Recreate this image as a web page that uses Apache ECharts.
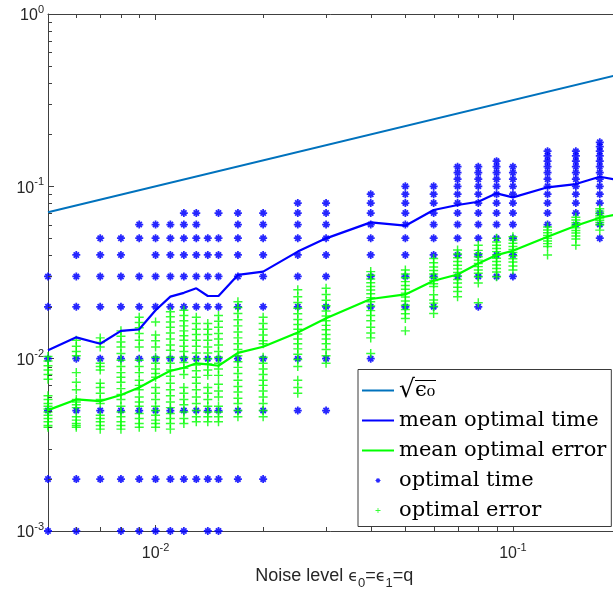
<!DOCTYPE html>
<html><head><meta charset="utf-8">
<script src="https://cdn.jsdelivr.net/npm/echarts@6/dist/echarts.min.js"></script>
<style>html,body{margin:0;padding:0;background:#fff}#c{width:613px;height:592px}</style>
</head><body><div id="c"></div>
<script>
// ---------------- data ----------------
const noise = [0.005, 0.006, 0.007, 0.008, 0.009, 0.01, 0.011, 0.012, 0.013, 0.014, 0.015, 0.017, 0.02, 0.025, 0.03, 0.04, 0.05, 0.06, 0.07, 0.08, 0.09, 0.1, 0.125, 0.15, 0.175, 0.2];
const sqrtX = [0.005, 0.2];
const sqrtY = [0.0707, 0.447];
const meanTime = [0.0112, 0.0133, 0.0122, 0.0145, 0.0148, 0.0191, 0.0229, 0.0241, 0.0256, 0.0231, 0.0231, 0.0306, 0.0320, 0.0418, 0.0499, 0.0618, 0.0591, 0.0729, 0.0779, 0.0814, 0.0911, 0.0863, 0.0987, 0.1031, 0.1137, 0.108];
const meanError = [0.00503, 0.0058, 0.00567, 0.00615, 0.0068, 0.00768, 0.0085, 0.00886, 0.0094, 0.00927, 0.0091, 0.0108, 0.01173, 0.0142, 0.01714, 0.0222, 0.0236, 0.0283, 0.0308, 0.0357, 0.0399, 0.0423, 0.051, 0.0591, 0.0657, 0.0696];
const timeCols = [
  [0.03, 0.02, 0.01, 0.005, 0.002, 0.001],
  [0.04, 0.03, 0.02, 0.01, 0.005, 0.002, 0.001],
  [0.05, 0.04, 0.03, 0.02, 0.01, 0.005, 0.002],
  [0.05, 0.04, 0.03, 0.02, 0.01, 0.005, 0.002, 0.001],
  [0.06, 0.05, 0.03, 0.02, 0.01, 0.005, 0.002, 0.001],
  [0.06, 0.05, 0.04, 0.03, 0.02, 0.01, 0.005, 0.002, 0.001],
  [0.06, 0.05, 0.04, 0.03, 0.02, 0.01, 0.005, 0.002, 0.001],
  [0.07, 0.06, 0.05, 0.04, 0.03, 0.02, 0.01, 0.005, 0.002, 0.001],
  [0.07, 0.06, 0.05, 0.04, 0.03, 0.02, 0.01, 0.005, 0.002],
  [0.05, 0.04, 0.03, 0.02, 0.01, 0.005, 0.002, 0.001],
  [0.07, 0.05, 0.04, 0.03, 0.02, 0.01, 0.005, 0.002, 0.001],
  [0.07, 0.06, 0.05, 0.04, 0.03, 0.02, 0.01, 0.005, 0.002],
  [0.07, 0.06, 0.05, 0.04, 0.03, 0.02, 0.01, 0.005, 0.002],
  [0.08, 0.07, 0.06, 0.05, 0.04, 0.03, 0.02, 0.01, 0.005],
  [0.08, 0.07, 0.06, 0.05, 0.04, 0.03, 0.02, 0.01, 0.005],
  [0.09, 0.08, 0.07, 0.06, 0.05, 0.04, 0.03, 0.02, 0.01],
  [0.1, 0.09, 0.08, 0.07, 0.06, 0.05, 0.04, 0.03, 0.02],
  [0.1, 0.09, 0.08, 0.07, 0.06, 0.05, 0.04, 0.03, 0.02],
  [0.13, 0.12, 0.11, 0.1, 0.09, 0.08, 0.07, 0.06, 0.05, 0.04, 0.03],
  [0.13, 0.12, 0.11, 0.1, 0.09, 0.08, 0.07, 0.06, 0.05, 0.04, 0.03, 0.02],
  [0.14, 0.13, 0.12, 0.11, 0.1, 0.09, 0.08, 0.07, 0.06, 0.05, 0.04, 0.03],
  [0.13, 0.12, 0.11, 0.1, 0.09, 0.08, 0.07, 0.06, 0.05, 0.04, 0.03],
  [0.16, 0.15, 0.14, 0.13, 0.12, 0.11, 0.1, 0.09, 0.08, 0.07, 0.06],
  [0.16, 0.15, 0.14, 0.13, 0.12, 0.11, 0.1, 0.09, 0.08, 0.07, 0.06],
  [0.18, 0.17, 0.16, 0.15, 0.14, 0.13, 0.12, 0.11, 0.1, 0.09, 0.08, 0.07, 0.06, 0.05],
  []
];
const errorCols = [
  [0.0103, 0.0097, 0.0091, 0.0086, 0.0081, 0.0076, 0.0061, 0.0058, 0.0055, 0.0053, 0.0051, 0.0049, 0.0047, 0.0045, 0.0043, 0.0041, 0.0040],
  [0.0128, 0.0118, 0.011, 0.0104, 0.0083, 0.0073, 0.0066, 0.0058, 0.0056, 0.0054, 0.0052, 0.0046, 0.0044, 0.0042, 0.0041, 0.004],
  [0.0132, 0.0124, 0.0117, 0.0094, 0.009, 0.0086, 0.0072, 0.0068, 0.0063, 0.0058, 0.0055, 0.0047, 0.0045, 0.0043, 0.0041, 0.0039],
  [0.0145, 0.0135, 0.0125, 0.0117, 0.0107, 0.0098, 0.009, 0.0083, 0.0078, 0.0073, 0.0067, 0.0062, 0.0058, 0.0053, 0.0049, 0.0046, 0.0043, 0.0041, 0.0039],
  [0.0174, 0.0162, 0.0151, 0.014, 0.0128, 0.0117, 0.0098, 0.009, 0.0083, 0.0075, 0.007, 0.0066, 0.006, 0.0056, 0.0053, 0.0048, 0.0045, 0.0042, 0.004],
  [0.0163, 0.0137, 0.0127, 0.0117, 0.0102, 0.0094, 0.0087, 0.0082, 0.0078, 0.0068, 0.0063, 0.0058, 0.0053, 0.005, 0.0047, 0.0044, 0.0042, 0.004],
  [0.0187, 0.0175, 0.0163, 0.0152, 0.0141, 0.013, 0.012, 0.0112, 0.0102, 0.0094, 0.0086, 0.0079, 0.0072, 0.0066, 0.0061, 0.0056, 0.0052, 0.0048, 0.0045, 0.0042, 0.0039],
  [0.0191, 0.0178, 0.0166, 0.0155, 0.0145, 0.0136, 0.0128, 0.0118, 0.011, 0.0102, 0.0095, 0.0088, 0.0081, 0.0068, 0.0063, 0.0058, 0.0054, 0.0049, 0.0045, 0.0042],
  [0.0174, 0.016, 0.0148, 0.0138, 0.0128, 0.0118, 0.0108, 0.01, 0.0092, 0.0085, 0.0078, 0.0072, 0.0066, 0.006, 0.0055, 0.005, 0.0046, 0.0043],
  [0.016, 0.0148, 0.0138, 0.0128, 0.0117, 0.0108, 0.01, 0.0093, 0.0086, 0.008, 0.0068, 0.0063, 0.0058, 0.0053, 0.0049, 0.0046, 0.0043],
  [0.0178, 0.0165, 0.0152, 0.014, 0.013, 0.012, 0.011, 0.0102, 0.0094, 0.0087, 0.008, 0.0071, 0.0065, 0.006, 0.0053, 0.0049, 0.0046, 0.0043],
  [0.0214, 0.0198, 0.0183, 0.0168, 0.0155, 0.0143, 0.0132, 0.0122, 0.0113, 0.0104, 0.0096, 0.0089, 0.0082, 0.0075, 0.0069, 0.0064, 0.0059, 0.0055, 0.005, 0.0046],
  [0.0174, 0.016, 0.0148, 0.0137, 0.0127, 0.0122, 0.0102, 0.0094, 0.0087, 0.0081, 0.0075, 0.007, 0.0065, 0.006, 0.0055, 0.005, 0.0046],
  [0.0251, 0.0229, 0.0212, 0.0196, 0.0182, 0.0169, 0.0158, 0.0148, 0.0139, 0.013, 0.0122, 0.0114, 0.0106, 0.0099, 0.009, 0.0075, 0.0068, 0.0063],
  [0.0256, 0.0236, 0.0218, 0.0203, 0.0189, 0.0177, 0.0166, 0.0156, 0.0147, 0.0138, 0.013, 0.0122, 0.0113, 0.0104, 0.0094],
  [0.032, 0.0305, 0.029, 0.0276, 0.0262, 0.025, 0.0238, 0.0226, 0.0214, 0.0202, 0.019, 0.0178, 0.0166, 0.0152, 0.0141, 0.0132, 0.0107],
  [0.0327, 0.031, 0.0295, 0.028, 0.0266, 0.0253, 0.024, 0.0228, 0.0216, 0.0204, 0.0193, 0.0182, 0.0171, 0.0145],
  [0.0381, 0.036, 0.034, 0.0325, 0.031, 0.0296, 0.0284, 0.0272, 0.0262, 0.0235, 0.0219, 0.021, 0.0201, 0.0183],
  [0.0427, 0.0405, 0.0385, 0.0366, 0.0348, 0.0332, 0.0316, 0.0302, 0.0288, 0.0275, 0.026, 0.0245, 0.0229],
  [0.0455, 0.0425, 0.0407, 0.039, 0.0373, 0.0357, 0.0342, 0.0327, 0.0313, 0.0299, 0.0275, 0.0211],
  [0.0499, 0.0475, 0.0455, 0.0436, 0.0418, 0.04, 0.0383, 0.0366, 0.035, 0.0334, 0.0318, 0.0299],
  [0.051, 0.0488, 0.0468, 0.0448, 0.043, 0.0413, 0.0396, 0.038, 0.0364, 0.0345, 0.0327],
  [0.058, 0.0558, 0.0538, 0.0518, 0.05, 0.0482, 0.0465, 0.0448, 0.0399],
  [0.0661, 0.0638, 0.0615, 0.0594, 0.0574, 0.0555, 0.0536, 0.0515, 0.0495, 0.0455],
  [0.0742, 0.0718, 0.0696, 0.0675, 0.0655, 0.0636, 0.0617, 0.0598, 0.0557],
  []
];
const xRange = [0.005, 0.2];
const yRange = [0.001, 1];
const xMinorTicks = [0.006, 0.007, 0.008, 0.009, 0.02, 0.03, 0.04, 0.05, 0.06, 0.07, 0.08, 0.09, 0.2];
const yMinorTicks = [0.002, 0.003, 0.004, 0.005, 0.006, 0.007, 0.008, 0.009, 0.02, 0.03, 0.04, 0.05, 0.06, 0.07, 0.08, 0.09, 0.2, 0.3, 0.4, 0.5, 0.6, 0.7, 0.8, 0.9];
const seriesNames = ['√ϵ₀', 'mean optimal time', 'mean optimal error', 'optimal time', 'optimal error'];

// ---------------- build ----------------
const AX = '#404040';
const timePts = [], errPts = [];
noise.forEach((x, i) => {
  timeCols[i].forEach(v => timePts.push([x, v]));
  errorCols[i].forEach(v => errPts.push([x, v]));
});
const STAR = 'path://M3.9,0H6.1V10H3.9Z M0,3.9H10V6.1H0Z M0.9,2.5L2.5,0.9L9.1,7.5L7.5,9.1Z M7.5,0.9L9.1,2.5L2.5,9.1L0.9,7.5Z';
const PLUS = 'path://M3.35,0H4.65V8H3.35Z M0,3.35H8V4.65H0Z';
const LINEICON = 'path://M0,0H32V2H0Z';

const ov = document.createElement('canvas');
ov.width = 10; ov.height = 40;
const octx = ov.getContext('2d');
octx.fillStyle = '#000'; octx.fillRect(0, 0, 10, 2);

function powLabel(v) {
  const l = Math.log10(v), e = Math.round(l);
  if (Math.abs(l - e) > 1e-6) return '';
  return '{b|10}{s|' + e + '}';
}
const SANS = 'Liberation Sans, Arial, sans-serif';
const labelRich = {
  b: {fontSize: 16, fontFamily: SANS, color: '#262626', verticalAlign: 'bottom'},
  s: {fontSize: 11, fontFamily: SANS, color: '#262626', verticalAlign: 'bottom', padding: [0, 0, 9, 0]}
};

const chart = echarts.init(document.getElementById('c'), null, {renderer: 'canvas'});
const xBase = {
  type: 'log', logBase: 10, min: xRange[0], max: xRange[1],
  axisLine: {show: true, lineStyle: {color: AX, width: 1}},
  axisTick: {show: true, inside: true, length: 6, lineStyle: {color: AX}},
  splitLine: {show: false}, minorTick: {show: false}, minorSplitLine: {show: false}
};
chart.setOption({
  animation: false,
  grid: {left: 48, top: 14, bottom: 61, right: -7.5, containLabel: false, outerBoundsMode: 'none'},
  xAxis: [
    Object.assign({}, xBase, {
      position: 'bottom',
      axisLabel: {show: true, margin: 11, formatter: powLabel, rich: labelRich},
      name: '{t|Noise level }{e|ϵ}{sub|0}{t|=}{e|ϵ}{sub|1}{t|=q}',
      nameLocation: 'middle', nameGap: 32,
      nameTextStyle: {rich: {
        t: {fontSize: 18, fontFamily: SANS, color: '#262626', verticalAlign: 'bottom', padding: [0, 0, 5, 0]},
        e: {fontSize: 16, fontFamily: 'DejaVu Sans, sans-serif', color: '#262626', verticalAlign: 'bottom', padding: [0, 0, 5, 0]},
        sub: {fontSize: 13, fontFamily: SANS, color: '#262626', verticalAlign: 'bottom'}
      }}
    }),
    Object.assign({}, xBase, {position: 'top', axisLabel: {show: false}})
  ],
  yAxis: {
    type: 'log', logBase: 10, min: yRange[0], max: yRange[1],
    axisLine: {show: true, lineStyle: {color: AX, width: 1}},
    axisTick: {show: true, inside: true, length: 6, lineStyle: {color: AX}},
    axisLabel: {show: true, margin: 4, formatter: powLabel, rich: labelRich},
    splitLine: {show: false}
  },
  legend: {
    orient: 'vertical', left: 358, top: 369.5,
    backgroundColor: '#fff', borderColor: '#3a3a3a', borderWidth: 1,
    padding: [8, 5, 3, 4], itemGap: 4, itemWidth: 32, itemHeight: 5, itemTextGap: 4,
    data: [
      {name: seriesNames[0], icon: LINEICON},
      {name: seriesNames[1], icon: LINEICON},
      {name: seriesNames[2], icon: LINEICON},
      {name: seriesNames[3], icon: STAR},
      {name: seriesNames[4], icon: PLUS}
    ],
    formatter: n => n === seriesNames[0] ? '{sq|√}{ov|ϵ₀}' : n,
    textStyle: {
      fontFamily: 'DejaVu Serif, serif', fontSize: 21, color: '#000', lineHeight: 26,
      rich: {
        sq: {fontFamily: 'DejaVu Serif, serif', fontSize: 25, color: '#000', lineHeight: 26},
        ov: {fontFamily: 'DejaVu Serif, serif', fontSize: 21, color: '#000', lineHeight: 26,
             backgroundColor: {image: ov}, padding: [0, 1, 0, 0]}
      }
    }
  },
  series: [
    {name: seriesNames[3], type: 'scatter', z: 2, symbol: STAR, symbolSize: 8,
     itemStyle: {color: '#0000FF', opacity: 0.85}, data: timePts},
    {name: seriesNames[4], type: 'scatter', z: 2, symbol: PLUS, symbolSize: 9,
     itemStyle: {color: '#00FF00', opacity: 0.8}, data: errPts},
    {name: seriesNames[0], type: 'line', z: 3, symbol: 'none', color: '#0072BD',
     lineStyle: {color: '#0072BD', width: 2}, data: sqrtX.map((x, i) => [x, sqrtY[i]])},
    {name: seriesNames[1], type: 'line', z: 3, symbol: 'none', color: '#0000FF',
     lineStyle: {color: '#0000FF', width: 2.2}, data: noise.map((x, i) => [x, meanTime[i]])},
    {name: seriesNames[2], type: 'line', z: 3, symbol: 'none', color: '#00FF00',
     lineStyle: {color: '#00FF00', width: 2.2}, data: noise.map((x, i) => [x, meanError[i]])},
    {type: 'custom', z: 4, silent: true, data: xMinorTicks.map(v => [v, yRange[0]]),
     renderItem: (p, api) => {
       const v = api.value(0);
       const b = api.coord([v, yRange[0]]), t = api.coord([v, yRange[1]]);
       const x = Math.round(b[0]) + 0.5;
       return {type: 'group', children: [
         {type: 'line', shape: {x1: x, y1: b[1], x2: x, y2: b[1] - 4}, style: {stroke: AX, lineWidth: 1}},
         {type: 'line', shape: {x1: x, y1: t[1], x2: x, y2: t[1] + 4}, style: {stroke: AX, lineWidth: 1}}
       ]};
     }},
    {type: 'custom', z: 4, silent: true, data: yMinorTicks.map(v => [xRange[0], v]),
     renderItem: (p, api) => {
       const a = api.coord([xRange[0], api.value(1)]);
       const y = Math.round(a[1]) + 0.5;
       return {type: 'line', shape: {x1: a[0], y1: y, x2: a[0] + 4, y2: y}, style: {stroke: AX, lineWidth: 1}};
     }}
  ]
});
</script></body></html>
